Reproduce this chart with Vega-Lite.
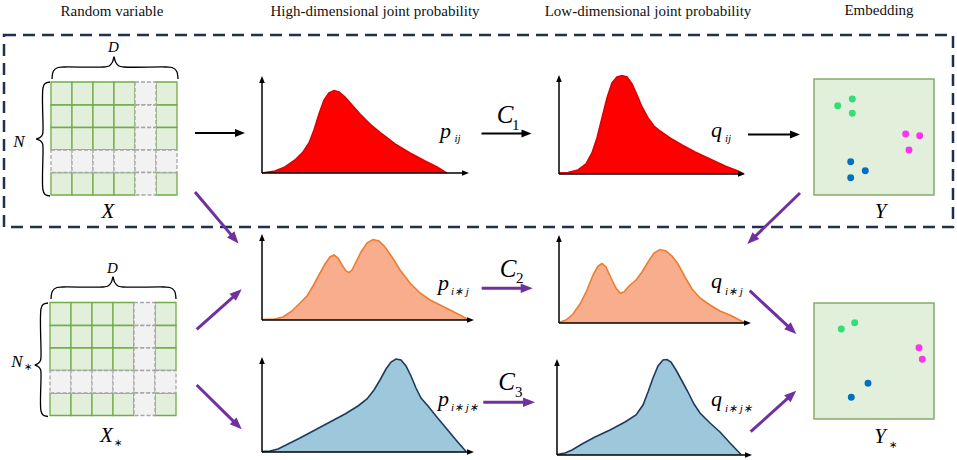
{
  "$schema": "https://vega.github.io/schema/vega-lite/v6.json",
  "width": 957,
  "height": 460,
  "autosize": "none",
  "padding": 0,
  "background": "white",
  "config": {"view": {"stroke": null}},
  "datasets": {
    "box": [{"x": 4, "x2": 953, "y": 35, "y2": 227}],
    "cells": [
      {"k":"G","x":51,"x2":72,"y":82,"y2":105},{"k":"G","x":72,"x2":93,"y":82,"y2":105},{"k":"G","x":93,"x2":114,"y":82,"y2":105},{"k":"G","x":114,"x2":135,"y":82,"y2":105},{"k":"E","x":135,"x2":156,"y":82,"y2":105},{"k":"G","x":156,"x2":177,"y":82,"y2":105},
      {"k":"G","x":51,"x2":72,"y":105,"y2":127.5},{"k":"G","x":72,"x2":93,"y":105,"y2":127.5},{"k":"G","x":93,"x2":114,"y":105,"y2":127.5},{"k":"G","x":114,"x2":135,"y":105,"y2":127.5},{"k":"E","x":135,"x2":156,"y":105,"y2":127.5},{"k":"G","x":156,"x2":177,"y":105,"y2":127.5},
      {"k":"G","x":51,"x2":72,"y":127.5,"y2":150},{"k":"G","x":72,"x2":93,"y":127.5,"y2":150},{"k":"G","x":93,"x2":114,"y":127.5,"y2":150},{"k":"G","x":114,"x2":135,"y":127.5,"y2":150},{"k":"E","x":135,"x2":156,"y":127.5,"y2":150},{"k":"G","x":156,"x2":177,"y":127.5,"y2":150},
      {"k":"E","x":51,"x2":72,"y":150,"y2":172.5},{"k":"E","x":72,"x2":93,"y":150,"y2":172.5},{"k":"E","x":93,"x2":114,"y":150,"y2":172.5},{"k":"E","x":114,"x2":135,"y":150,"y2":172.5},{"k":"E","x":135,"x2":156,"y":150,"y2":172.5},{"k":"E","x":156,"x2":177,"y":150,"y2":172.5},
      {"k":"G","x":51,"x2":72,"y":172.5,"y2":195},{"k":"G","x":72,"x2":93,"y":172.5,"y2":195},{"k":"G","x":93,"x2":114,"y":172.5,"y2":195},{"k":"G","x":114,"x2":135,"y":172.5,"y2":195},{"k":"E","x":135,"x2":156,"y":172.5,"y2":195},{"k":"G","x":156,"x2":177,"y":172.5,"y2":195},
      {"k":"G","x":50,"x2":71,"y":302.5,"y2":325.5},{"k":"G","x":71,"x2":92,"y":302.5,"y2":325.5},{"k":"G","x":92,"x2":113,"y":302.5,"y2":325.5},{"k":"G","x":113,"x2":134,"y":302.5,"y2":325.5},{"k":"E","x":134,"x2":155,"y":302.5,"y2":325.5},{"k":"G","x":155,"x2":176,"y":302.5,"y2":325.5},
      {"k":"G","x":50,"x2":71,"y":325.5,"y2":348},{"k":"G","x":71,"x2":92,"y":325.5,"y2":348},{"k":"G","x":92,"x2":113,"y":325.5,"y2":348},{"k":"G","x":113,"x2":134,"y":325.5,"y2":348},{"k":"E","x":134,"x2":155,"y":325.5,"y2":348},{"k":"G","x":155,"x2":176,"y":325.5,"y2":348},
      {"k":"G","x":50,"x2":71,"y":348,"y2":370.5},{"k":"G","x":71,"x2":92,"y":348,"y2":370.5},{"k":"G","x":92,"x2":113,"y":348,"y2":370.5},{"k":"G","x":113,"x2":134,"y":348,"y2":370.5},{"k":"E","x":134,"x2":155,"y":348,"y2":370.5},{"k":"G","x":155,"x2":176,"y":348,"y2":370.5},
      {"k":"E","x":50,"x2":71,"y":370.5,"y2":393},{"k":"E","x":71,"x2":92,"y":370.5,"y2":393},{"k":"E","x":92,"x2":113,"y":370.5,"y2":393},{"k":"E","x":113,"x2":134,"y":370.5,"y2":393},{"k":"E","x":134,"x2":155,"y":370.5,"y2":393},{"k":"E","x":155,"x2":176,"y":370.5,"y2":393},
      {"k":"G","x":50,"x2":71,"y":393,"y2":415.5},{"k":"G","x":71,"x2":92,"y":393,"y2":415.5},{"k":"G","x":92,"x2":113,"y":393,"y2":415.5},{"k":"G","x":113,"x2":134,"y":393,"y2":415.5},{"k":"E","x":134,"x2":155,"y":393,"y2":415.5},{"k":"G","x":155,"x2":176,"y":393,"y2":415.5}
    ],
    "ybox": [{"x": 814, "x2": 934, "y": 79, "y2": 195}, {"x": 814, "x2": 934, "y": 303, "y2": 419}],
    "dots": [
      {"c":"g","x":837.7,"y":105.7},{"c":"g","x":852.3,"y":99},{"c":"g","x":852.3,"y":113.3},
      {"c":"m","x":905.7,"y":134},{"c":"m","x":919.7,"y":135.7},{"c":"m","x":909,"y":150},
      {"c":"b","x":850.7,"y":161.7},{"c":"b","x":865.3,"y":170.7},{"c":"b","x":850.7,"y":177.7},
      {"c":"g","x":841.3,"y":329},{"c":"g","x":854.7,"y":322.7},
      {"c":"m","x":919,"y":347.7},{"c":"m","x":922.3,"y":359.3},
      {"c":"b","x":868,"y":383.3},{"c":"b","x":851.3,"y":397.3}
    ],
    "braces": [
      {"id":"b1","x":52,"y":79},{"id":"b1","x":53.5,"y":71},{"id":"b1","x":58,"y":67.5},{"id":"b1","x":64,"y":67},{"id":"b1","x":104,"y":67},{"id":"b1","x":109,"y":66},{"id":"b1","x":112.5,"y":62},{"id":"b1","x":114,"y":57},{"id":"b1","x":115.5,"y":62},{"id":"b1","x":119,"y":66},{"id":"b1","x":124,"y":67},{"id":"b1","x":166,"y":67},{"id":"b1","x":172,"y":67.5},{"id":"b1","x":176.5,"y":71},{"id":"b1","x":178,"y":79},
      {"id":"b2","x":50,"y":82},{"id":"b2","x":45,"y":83.5},{"id":"b2","x":43,"y":88},{"id":"b2","x":43,"y":130},{"id":"b2","x":42.5,"y":134.5},{"id":"b2","x":40,"y":137.5},{"id":"b2","x":36.5,"y":139},{"id":"b2","x":40,"y":140.5},{"id":"b2","x":42.5,"y":143.5},{"id":"b2","x":43,"y":148},{"id":"b2","x":43,"y":190},{"id":"b2","x":45,"y":194.5},{"id":"b2","x":50,"y":196},
      {"id":"b3","x":51,"y":299},{"id":"b3","x":52.5,"y":291},{"id":"b3","x":57,"y":287.5},{"id":"b3","x":63,"y":287},{"id":"b3","x":103,"y":287},{"id":"b3","x":108,"y":286},{"id":"b3","x":111.5,"y":282},{"id":"b3","x":113,"y":277},{"id":"b3","x":114.5,"y":282},{"id":"b3","x":118,"y":286},{"id":"b3","x":123,"y":287},{"id":"b3","x":164,"y":287},{"id":"b3","x":170,"y":287.5},{"id":"b3","x":174.5,"y":291},{"id":"b3","x":176,"y":299},
      {"id":"b4","x":48,"y":303},{"id":"b4","x":43,"y":304.5},{"id":"b4","x":41,"y":309},{"id":"b4","x":41,"y":356},{"id":"b4","x":40.5,"y":360.5},{"id":"b4","x":38,"y":363.5},{"id":"b4","x":35,"y":365},{"id":"b4","x":38,"y":366.5},{"id":"b4","x":40.5,"y":369.5},{"id":"b4","x":41,"y":374},{"id":"b4","x":41,"y":411},{"id":"b4","x":43,"y":415},{"id":"b4","x":48,"y":416.5}
    ],
    "dens": [
      {"p":"h1","b":173,"x":262,"y":173},{"p":"h1","b":173,"x":275,"y":171},{"p":"h1","b":173,"x":285,"y":167},{"p":"h1","b":173,"x":295,"y":160},{"p":"h1","b":173,"x":303,"y":152},{"p":"h1","b":173,"x":309,"y":143},{"p":"h1","b":173,"x":314,"y":130},{"p":"h1","b":173,"x":319,"y":114},{"p":"h1","b":173,"x":324,"y":100},{"p":"h1","b":173,"x":329,"y":93},{"p":"h1","b":173,"x":334,"y":90.5},{"p":"h1","b":173,"x":339,"y":92},{"p":"h1","b":173,"x":345,"y":97},{"p":"h1","b":173,"x":352,"y":105},{"p":"h1","b":173,"x":360,"y":114},{"p":"h1","b":173,"x":370,"y":124},{"p":"h1","b":173,"x":382,"y":134},{"p":"h1","b":173,"x":395,"y":144},{"p":"h1","b":173,"x":410,"y":153},{"p":"h1","b":173,"x":425,"y":161},{"p":"h1","b":173,"x":437,"y":167},{"p":"h1","b":173,"x":445,"y":172},{"p":"h1","b":173,"x":447,"y":173},
      {"p":"l1","b":174,"x":559,"y":173},{"p":"l1","b":174,"x":568,"y":172.5},{"p":"l1","b":174,"x":578,"y":170},{"p":"l1","b":174,"x":586,"y":164},{"p":"l1","b":174,"x":592,"y":153},{"p":"l1","b":174,"x":597,"y":138},{"p":"l1","b":174,"x":602,"y":118},{"p":"l1","b":174,"x":607,"y":98},{"p":"l1","b":174,"x":612,"y":83},{"p":"l1","b":174,"x":617,"y":77},{"p":"l1","b":174,"x":622,"y":75.5},{"p":"l1","b":174,"x":627,"y":77},{"p":"l1","b":174,"x":632,"y":84},{"p":"l1","b":174,"x":637,"y":95},{"p":"l1","b":174,"x":642,"y":107},{"p":"l1","b":174,"x":648,"y":118},{"p":"l1","b":174,"x":654,"y":126},{"p":"l1","b":174,"x":660,"y":131},{"p":"l1","b":174,"x":670,"y":138},{"p":"l1","b":174,"x":682,"y":145},{"p":"l1","b":174,"x":695,"y":152},{"p":"l1","b":174,"x":710,"y":159},{"p":"l1","b":174,"x":725,"y":166},{"p":"l1","b":174,"x":738,"y":171},{"p":"l1","b":174,"x":744,"y":174},
      {"p":"h2","b":320,"x":262,"y":319.5},{"p":"h2","b":320,"x":275,"y":319},{"p":"h2","b":320,"x":283,"y":317},{"p":"h2","b":320,"x":292,"y":311},{"p":"h2","b":320,"x":300,"y":303},{"p":"h2","b":320,"x":307,"y":296},{"p":"h2","b":320,"x":313,"y":286},{"p":"h2","b":320,"x":319,"y":275},{"p":"h2","b":320,"x":325,"y":264},{"p":"h2","b":320,"x":330,"y":257},{"p":"h2","b":320,"x":334,"y":255},{"p":"h2","b":320,"x":338,"y":258},{"p":"h2","b":320,"x":342,"y":265},{"p":"h2","b":320,"x":346,"y":271},{"p":"h2","b":320,"x":349,"y":272.5},{"p":"h2","b":320,"x":352,"y":270},{"p":"h2","b":320,"x":356,"y":262},{"p":"h2","b":320,"x":361,"y":252},{"p":"h2","b":320,"x":367,"y":243},{"p":"h2","b":320,"x":373,"y":239.5},{"p":"h2","b":320,"x":379,"y":241},{"p":"h2","b":320,"x":385,"y":247},{"p":"h2","b":320,"x":392,"y":257},{"p":"h2","b":320,"x":400,"y":270},{"p":"h2","b":320,"x":410,"y":283},{"p":"h2","b":320,"x":420,"y":293},{"p":"h2","b":320,"x":430,"y":300},{"p":"h2","b":320,"x":440,"y":305},{"p":"h2","b":320,"x":450,"y":310},{"p":"h2","b":320,"x":460,"y":315},{"p":"h2","b":320,"x":468,"y":319.5},
      {"p":"l2","b":323,"x":559,"y":322.5},{"p":"l2","b":323,"x":566,"y":320},{"p":"l2","b":323,"x":573,"y":314},{"p":"l2","b":323,"x":580,"y":304},{"p":"l2","b":323,"x":587,"y":290},{"p":"l2","b":323,"x":593,"y":275},{"p":"l2","b":323,"x":598,"y":266},{"p":"l2","b":323,"x":602,"y":263.5},{"p":"l2","b":323,"x":606,"y":267},{"p":"l2","b":323,"x":611,"y":278},{"p":"l2","b":323,"x":616,"y":288},{"p":"l2","b":323,"x":620,"y":293},{"p":"l2","b":323,"x":624,"y":292},{"p":"l2","b":323,"x":629,"y":286},{"p":"l2","b":323,"x":636,"y":280},{"p":"l2","b":323,"x":642,"y":272},{"p":"l2","b":323,"x":648,"y":262},{"p":"l2","b":323,"x":654,"y":253},{"p":"l2","b":323,"x":660,"y":249.5},{"p":"l2","b":323,"x":666,"y":251},{"p":"l2","b":323,"x":672,"y":256},{"p":"l2","b":323,"x":678,"y":264},{"p":"l2","b":323,"x":685,"y":277},{"p":"l2","b":323,"x":692,"y":289},{"p":"l2","b":323,"x":700,"y":298},{"p":"l2","b":323,"x":710,"y":305},{"p":"l2","b":323,"x":720,"y":311},{"p":"l2","b":323,"x":732,"y":316},{"p":"l2","b":323,"x":744,"y":322.5},
      {"p":"h3","b":452,"x":262,"y":451.5},{"p":"h3","b":452,"x":270,"y":451},{"p":"h3","b":452,"x":278,"y":449},{"p":"h3","b":452,"x":288,"y":444},{"p":"h3","b":452,"x":300,"y":438},{"p":"h3","b":452,"x":315,"y":430},{"p":"h3","b":452,"x":330,"y":422},{"p":"h3","b":452,"x":345,"y":414},{"p":"h3","b":452,"x":358,"y":406},{"p":"h3","b":452,"x":367,"y":399},{"p":"h3","b":452,"x":374,"y":390},{"p":"h3","b":452,"x":380,"y":380},{"p":"h3","b":452,"x":386,"y":369},{"p":"h3","b":452,"x":391,"y":362},{"p":"h3","b":452,"x":396,"y":359},{"p":"h3","b":452,"x":401,"y":360},{"p":"h3","b":452,"x":406,"y":366},{"p":"h3","b":452,"x":411,"y":376},{"p":"h3","b":452,"x":416,"y":388},{"p":"h3","b":452,"x":421,"y":398},{"p":"h3","b":452,"x":428,"y":406},{"p":"h3","b":452,"x":436,"y":416},{"p":"h3","b":452,"x":446,"y":428},{"p":"h3","b":452,"x":456,"y":440},{"p":"h3","b":452,"x":466,"y":451.5},
      {"p":"l3","b":455,"x":557,"y":454.5},{"p":"l3","b":455,"x":565,"y":453},{"p":"l3","b":455,"x":572,"y":450},{"p":"l3","b":455,"x":582,"y":444},{"p":"l3","b":455,"x":595,"y":437},{"p":"l3","b":455,"x":610,"y":430},{"p":"l3","b":455,"x":625,"y":422},{"p":"l3","b":455,"x":636,"y":415},{"p":"l3","b":455,"x":643,"y":405},{"p":"l3","b":455,"x":648,"y":392},{"p":"l3","b":455,"x":653,"y":378},{"p":"l3","b":455,"x":658,"y":366},{"p":"l3","b":455,"x":663,"y":360},{"p":"l3","b":455,"x":667,"y":359.5},{"p":"l3","b":455,"x":671,"y":362},{"p":"l3","b":455,"x":676,"y":370},{"p":"l3","b":455,"x":682,"y":381},{"p":"l3","b":455,"x":688,"y":392},{"p":"l3","b":455,"x":694,"y":404},{"p":"l3","b":455,"x":700,"y":413},{"p":"l3","b":455,"x":710,"y":423},{"p":"l3","b":455,"x":720,"y":432},{"p":"l3","b":455,"x":730,"y":443},{"p":"l3","b":455,"x":741,"y":454.5}
    ],
    "axes": [
      {"x":262,"y":173,"x2":262,"y2":79.5,"a":0},{"x":262,"y":173,"x2":465.5,"y2":173,"a":90},
      {"x":559,"y":174,"x2":559,"y2":78.5,"a":0},{"x":559,"y":174,"x2":741.5,"y2":174,"a":90},
      {"x":262,"y":320,"x2":262,"y2":237.5,"a":0},{"x":262,"y":320,"x2":470.5,"y2":320,"a":90},
      {"x":559,"y":323,"x2":559,"y2":238.5,"a":0},{"x":559,"y":323,"x2":747.5,"y2":323,"a":90},
      {"x":262,"y":452,"x2":262,"y2":360.5,"a":0},{"x":262,"y":452,"x2":470.5,"y2":452,"a":90},
      {"x":557,"y":455,"x2":557,"y2":362.5,"a":0},{"x":557,"y":455,"x2":748.5,"y2":455,"a":90}
    ],
    "karrows": [
      {"x":195,"y":133,"x2":240,"y2":133,"a":90},
      {"x":481.5,"y":133.5,"x2":526.5,"y2":133.5,"a":90},
      {"x":748,"y":134.5,"x2":795,"y2":134.5,"a":90}
    ],
    "parrows": [
      {"x":195,"y":192,"x2":234.6,"y2":238.9,"a":139.8},
      {"x":196.7,"y":329.3,"x2":237.2,"y2":293.3,"a":48.4},
      {"x":196.7,"y":385,"x2":237.4,"y2":425.1,"a":134.6},
      {"x":481.7,"y":288.3,"x2":526.7,"y2":288.3,"a":90},
      {"x":483.3,"y":402.3,"x2":529,"y2":402.3,"a":90},
      {"x":800,"y":193,"x2":751.6,"y2":239.8,"a":225.9},
      {"x":749.7,"y":290.7,"x2":791.9,"y2":329.9,"a":132.9},
      {"x":750.7,"y":431.7,"x2":791.8,"y2":394.7,"a":48.0}
    ],
    "tx": [
      {"g":"t","t":"Random variable","x":112,"y":15.5},
      {"g":"t","t":"High-dimensional joint probability","x":375,"y":15.5},
      {"g":"t","t":"Low-dimensional joint probability","x":648,"y":15.5},
      {"g":"t","t":"Embedding","x":879,"y":14.5},
      {"g":"L","t":"X","x":108,"y":218},
      {"g":"L","t":"Y","x":880.5,"y":217.5},
      {"g":"L","t":"X","x":106.5,"y":441.5},
      {"g":"L","t":"Y","x":880,"y":443},
      {"g":"N","t":"N","x":19,"y":147},
      {"g":"N","t":"N","x":17,"y":367},
      {"g":"D","t":"D","x":113.5,"y":52},
      {"g":"D","t":"D","x":112.5,"y":273},
      {"g":"s","t":"∗","x":114,"y":446},
      {"g":"s","t":"∗","x":24,"y":370},
      {"g":"s","t":"∗","x":889,"y":448},
      {"g":"pq","t":"p","x":440,"y":137.5},
      {"g":"pq","t":"q","x":711,"y":137},
      {"g":"pq","t":"p","x":438,"y":289.5},
      {"g":"pq","t":"p","x":438,"y":406},
      {"g":"pq","t":"q","x":711,"y":288},
      {"g":"pq","t":"q","x":711,"y":406},
      {"g":"sub","t":"ij","x":454.5,"y":142},
      {"g":"sub","t":"ij","x":725,"y":142},
      {"g":"sub","t":"i∗ j","x":451,"y":295},
      {"g":"sub","t":"i∗ j∗","x":451,"y":411},
      {"g":"sub","t":"i∗ j","x":725,"y":295},
      {"g":"sub","t":"i∗ j∗","x":725,"y":412},
      {"g":"C","t":"C","x":505,"y":123},
      {"g":"C","t":"C","x":508,"y":276.5},
      {"g":"C","t":"C","x":506.5,"y":390},
      {"g":"n","t":"1","x":512,"y":130},
      {"g":"n","t":"2","x":516,"y":283},
      {"g":"n","t":"3","x":515,"y":397}
    ]
  },
  "encoding": {
    "x": {"field": "x", "type": "quantitative", "scale": {"domain": [0, 957], "nice": false, "zero": false}, "axis": null},
    "y": {"field": "y", "type": "quantitative", "scale": {"domain": [460, 0], "nice": false, "zero": false}, "axis": null}
  },
  "layer": [
    {
      "data": {"name": "box"},
      "mark": {"type": "rect", "fillOpacity": 0, "stroke": "#1f3050", "strokeWidth": 2.5, "strokeDash": [12, 7]},
      "encoding": {"x2": {"field": "x2"}, "y2": {"field": "y2"}}
    },
    {
      "data": {"name": "cells"},
      "transform": [{"filter": "datum.k === 'G'"}],
      "mark": {"type": "rect", "fill": "#e2efda", "stroke": "#70ad47", "strokeWidth": 1.3},
      "encoding": {"x2": {"field": "x2"}, "y2": {"field": "y2"}}
    },
    {
      "data": {"name": "cells"},
      "transform": [{"filter": "datum.k === 'E'"}],
      "mark": {"type": "rect", "fill": "#f2f2f2", "stroke": "#a6a6a6", "strokeWidth": 1.3, "strokeDash": [4, 2]},
      "encoding": {"x2": {"field": "x2"}, "y2": {"field": "y2"}}
    },
    {
      "data": {"name": "ybox"},
      "mark": {"type": "rect", "fill": "#e2efda", "stroke": "#84ad68", "strokeWidth": 1.5},
      "encoding": {"x2": {"field": "x2"}, "y2": {"field": "y2"}}
    },
    {
      "data": {"name": "dots"},
      "mark": {"type": "point", "filled": true, "size": 48, "opacity": 1, "strokeWidth": 0},
      "encoding": {"color": {"field": "c", "type": "nominal", "scale": {"domain": ["g", "m", "b"], "range": ["#33dd77", "#ff33ee", "#0070c0"]}, "legend": null}}
    },
    {
      "data": {"name": "braces"},
      "mark": {"type": "line", "stroke": "#000000", "strokeWidth": 1.3, "interpolate": "catmull-rom"},
      "encoding": {"detail": {"field": "id"}, "order": {"value": null}}
    },
    {
      "data": {"name": "dens"},
      "mark": {"type": "area", "opacity": 1},
      "encoding": {
        "y2": {"field": "b"},
        "fill": {"field": "p", "type": "nominal", "scale": {"domain": ["h1", "l1", "h2", "l2", "h3", "l3"], "range": ["#ff0000", "#ff0000", "#f8ad8c", "#f8ad8c", "#9dc8db", "#9dc8db"]}, "legend": null}
      }
    },
    {
      "data": {"name": "dens"},
      "mark": {"type": "line", "strokeWidth": 1.6},
      "encoding": {
        "stroke": {"field": "p", "type": "nominal", "scale": {"domain": ["h1", "l1", "h2", "l2", "h3", "l3"], "range": ["#e00000", "#e00000", "#ed7d31", "#ed7d31", "#1f3a5f", "#1f3a5f"]}, "legend": null}
      }
    },
    {
      "data": {"name": "axes"},
      "mark": {"type": "rule", "stroke": "#000000", "strokeWidth": 1.5},
      "encoding": {"x2": {"field": "x2"}, "y2": {"field": "y2"}}
    },
    {
      "data": {"name": "axes"},
      "mark": {"type": "point", "shape": "M0,-1L0.8,1L-0.8,1Z", "filled": true, "color": "#000000", "opacity": 1, "size": 49, "strokeWidth": 0},
      "encoding": {"x": {"field": "x2", "type": "quantitative"}, "y": {"field": "y2", "type": "quantitative"}, "angle": {"field": "a", "type": "quantitative", "scale": null}}
    },
    {
      "data": {"name": "karrows"},
      "mark": {"type": "rule", "stroke": "#000000", "strokeWidth": 2.2},
      "encoding": {"x2": {"field": "x2"}, "y2": {"field": "y2"}}
    },
    {
      "data": {"name": "karrows"},
      "mark": {"type": "point", "shape": "M0,-1L0.8,1L-0.8,1Z", "filled": true, "color": "#000000", "opacity": 1, "size": 100, "strokeWidth": 0},
      "encoding": {"x": {"field": "x2", "type": "quantitative"}, "y": {"field": "y2", "type": "quantitative"}, "angle": {"field": "a", "type": "quantitative", "scale": null}}
    },
    {
      "data": {"name": "parrows"},
      "mark": {"type": "rule", "stroke": "#7030a0", "strokeWidth": 3},
      "encoding": {"x2": {"field": "x2"}, "y2": {"field": "y2"}}
    },
    {
      "data": {"name": "parrows"},
      "mark": {"type": "point", "shape": "M0,-1L0.8,1L-0.8,1Z", "filled": true, "color": "#7030a0", "opacity": 1, "size": 144, "strokeWidth": 0},
      "encoding": {"x": {"field": "x2", "type": "quantitative"}, "y": {"field": "y2", "type": "quantitative"}, "angle": {"field": "a", "type": "quantitative", "scale": null}}
    },
    {
      "data": {"name": "tx"},
      "transform": [{"filter": "datum.g === 't'"}],
      "mark": {"type": "text", "font": "Liberation Serif", "fontSize": 15, "align": "center", "baseline": "alphabetic", "color": "#111111"},
      "encoding": {"text": {"field": "t"}}
    },
    {
      "data": {"name": "tx"},
      "transform": [{"filter": "datum.g === 'L'"}],
      "mark": {"type": "text", "font": "Liberation Serif", "fontSize": 21, "fontStyle": "italic", "align": "center", "baseline": "alphabetic", "color": "#000000"},
      "encoding": {"text": {"field": "t"}}
    },
    {
      "data": {"name": "tx"},
      "transform": [{"filter": "datum.g === 'N'"}],
      "mark": {"type": "text", "font": "Liberation Serif", "fontSize": 17, "fontStyle": "italic", "align": "center", "baseline": "alphabetic", "color": "#000000"},
      "encoding": {"text": {"field": "t"}}
    },
    {
      "data": {"name": "tx"},
      "transform": [{"filter": "datum.g === 'D'"}],
      "mark": {"type": "text", "font": "Liberation Serif", "fontSize": 15, "fontStyle": "italic", "align": "center", "baseline": "alphabetic", "color": "#000000"},
      "encoding": {"text": {"field": "t"}}
    },
    {
      "data": {"name": "tx"},
      "transform": [{"filter": "datum.g === 's'"}],
      "mark": {"type": "text", "font": "Liberation Serif", "fontSize": 10, "align": "left", "baseline": "alphabetic", "color": "#000000"},
      "encoding": {"text": {"field": "t"}}
    },
    {
      "data": {"name": "tx"},
      "transform": [{"filter": "datum.g === 'pq'"}],
      "mark": {"type": "text", "font": "Liberation Serif", "fontSize": 22, "fontStyle": "italic", "align": "left", "baseline": "alphabetic", "color": "#000000"},
      "encoding": {"text": {"field": "t"}}
    },
    {
      "data": {"name": "tx"},
      "transform": [{"filter": "datum.g === 'sub'"}],
      "mark": {"type": "text", "font": "Liberation Serif", "fontSize": 11, "fontStyle": "italic", "align": "left", "baseline": "alphabetic", "color": "#000000"},
      "encoding": {"text": {"field": "t"}}
    },
    {
      "data": {"name": "tx"},
      "transform": [{"filter": "datum.g === 'C'"}],
      "mark": {"type": "text", "font": "Liberation Serif", "fontSize": 25, "fontStyle": "italic", "align": "center", "baseline": "alphabetic", "color": "#000000"},
      "encoding": {"text": {"field": "t"}}
    },
    {
      "data": {"name": "tx"},
      "transform": [{"filter": "datum.g === 'n'"}],
      "mark": {"type": "text", "font": "Liberation Serif", "fontSize": 15, "align": "left", "baseline": "alphabetic", "color": "#000000"},
      "encoding": {"text": {"field": "t"}}
    }
  ]
}
